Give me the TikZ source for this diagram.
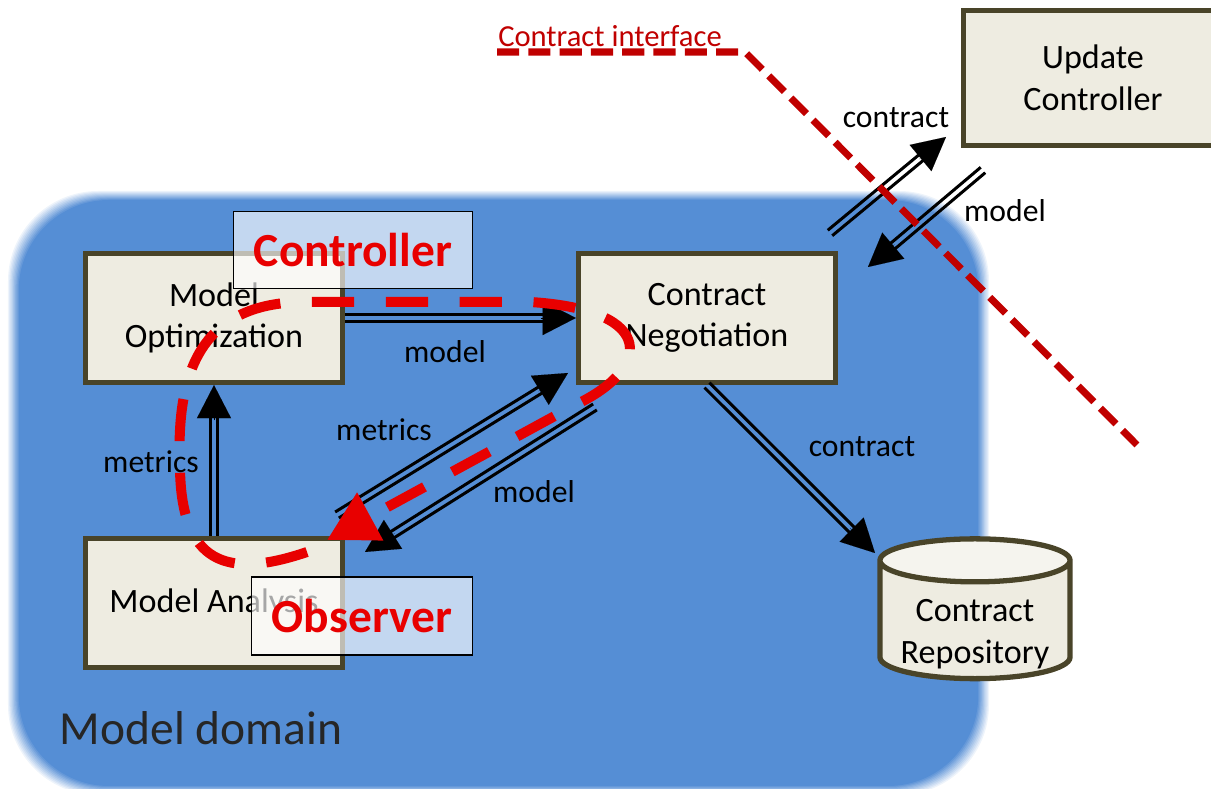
\documentclass[tikz,border=0pt]{standalone}
\usepackage{fontspec}
\setmainfont{Carlito}
\usetikzlibrary{positioning, arrows.meta, shapes.geometric, calc}

\definecolor{domainblue}{RGB}{85,142,213}
\definecolor{boxfill}{RGB}{238,236,225}
\definecolor{boxline}{RGB}{73,68,41}
\definecolor{repotop}{RGB}{245,244,238}
\definecolor{loopred}{RGB}{232,0,0}
\definecolor{ifacered}{RGB}{192,0,0}
\definecolor{domaintext}{RGB}{38,38,38}

% two parallel rails with one big head
\newcommand{\railarrow}[2]{%
  \draw[rail] ($(#1)!1pt!90:(#2)$) -- ($(#2)!1pt!-90:(#1)$);
  \draw[rail] ($(#1)!1pt!-90:(#2)$) -- ($(#2)!1pt!90:(#1)$);
  \draw[railtip] ($(#2)!10pt!(#1)$) -- (#2);
}

\begin{document}
\begin{tikzpicture}[x=0.01cm, y=-0.01cm,
  box/.style={draw=boxline, fill=boxfill, line width=1.5pt, minimum width=2.57cm, minimum height=1.29cm, align=center, font=\fontsize{9.7}{11.8}\selectfont},
  tag/.style={draw=black, line width=0.5pt, fill=white, fill opacity=0.65, text opacity=1, text=loopred, font=\fontsize{13.5}{16}\selectfont\bfseries, inner sep=0pt},
  flowlabel/.style={font=\fontsize{9}{11}\selectfont},
  rail/.style={line width=0.85pt, shorten >=4pt},
  railtip/.style={-{Triangle[length=9.4pt,width=9.7pt]}, line width=0.01pt},
  loopline/.style={loopred, line width=2.85pt, dash pattern=on 12pt off 9pt},
  iface/.style={ifacered, line width=2pt, dash pattern=on 6.3pt off 2.6pt}]

\useasboundingbox (0,0) rectangle (1211,789);

% Model domain, soft edge
\foreach \i [evaluate=\i as \shade using 10+10*\i] in {0,...,9} {
  \fill[domainblue!\shade!white, rounded corners=0.9cm] (8+1.2*\i,191+1*\i) rectangle (989-1.2*\i,795-1*\i);
}
\node[font=\fontsize{13.5}{16}\selectfont, text=domaintext] (domain) at (201,728) {Model domain};

% Components
\node[box] (opt) at (214,318) {Model\\Optimization};
\node[box] (ana) at (214,603) {Model Analysis};
\node[box] (neg) at (707,318) {Contract\\Negotiation};
\node[box, minimum width=2.59cm, minimum height=1.35cm] (upd) at (1093,78) {Update\\Controller};
\node[cylinder, shape border rotate=90, aspect=0.25, draw=boxline, line width=1.5pt,
  cylinder uses custom fill, cylinder body fill=boxfill, cylinder end fill=repotop,
  minimum width=1.9cm, minimum height=1.36cm, inner ysep=0pt,
  font=\fontsize{9.7}{11.8}\selectfont] (repo) at (975,626)
  {\raisebox{-0.08cm}[\height][\depth]{\begin{tabular}{@{}c@{}}Contract\\Repository\end{tabular}}};

% Free ends
\coordinate (metA) at (337,515);
\coordinate (metB) at (568,373);
\coordinate (modA) at (595,407);
\coordinate (modB) at (365,552);
\coordinate (repoIn) at (875,553);
\coordinate (upA) at (830,233);
\coordinate (upB) at (946,137);
\coordinate (dnA) at (983,170);
\coordinate (dnB) at (868,267);

% Flows
\railarrow{opt.east}{neg.west}
\railarrow{ana.north}{opt.south}
\railarrow{metA}{metB}
\railarrow{modA}{modB}
\railarrow{neg.south}{repoIn}
\railarrow{upA}{upB}
\railarrow{dnA}{dnB}

\node[flowlabel] (lOptNeg) at (445,352) {model};
\node[flowlabel] (lAnaOpt) at (151,462) {metrics};
\node[flowlabel] (lMet) at (384,430) {metrics};
\node[flowlabel] (lMod) at (534,492) {model};
\node[flowlabel] (lRepo) at (862,447) {contract};
\node[flowlabel] (lUp) at (896,118) {contract};
\node[flowlabel] (lDn) at (1005,211) {model};

% Tags
\node[tag, minimum width=2.39cm, minimum height=0.77cm] (ctrl) at (353,250) {Controller};
\node[tag, minimum width=2.21cm, minimum height=0.78cm] (obs) at (362,616) {Observer};

% Contract interface
\node[text=ifacered, font=\fontsize{8.7}{10}\selectfont] (iface) at (610,36) {Contract interface};
\draw[iface] (497,52) -- (745,52) -- (1137,445);

% Control loop
\draw[loopline, -{Triangle[length=14pt,width=14.8pt]}] (307,552) .. controls (225,580) and (182,562) .. (180,470) .. controls (176,380) and (195,305) .. (300,302) -- (530,302) .. controls (660,310) and (650,370) .. (575,405) -- (327,540);

\end{tikzpicture}
\end{document}
